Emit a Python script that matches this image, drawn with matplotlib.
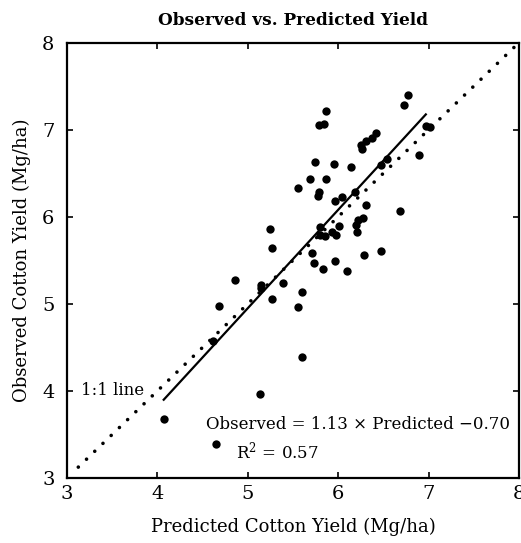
import matplotlib
matplotlib.use("Agg")
import matplotlib.pyplot as plt
import numpy as np

plt.rcParams['font.family'] = ['DejaVu Serif']
plt.rcParams['mathtext.fontset'] = 'dejavuserif'

# predicted vs observed cotton yield (Mg/ha)
predicted = [5.87, 5.79, 5.84, 6.77, 6.73, 6.42, 6.37, 6.31, 6.25, 6.26,
             6.97, 7.02, 6.90, 6.54, 6.47, 5.74, 5.95, 6.14, 5.69, 5.87,
             5.56, 5.79, 5.78, 6.04, 5.97, 6.19, 6.31, 6.68, 6.28, 6.22,
             6.20, 6.21, 5.25, 5.27, 5.80, 5.80, 5.85, 5.93, 5.98, 6.01,
             5.71, 5.73, 5.97, 5.83, 6.10, 6.29, 6.47, 4.86, 5.15, 5.15,
             5.39, 5.27, 5.60, 5.56, 4.68, 4.61, 5.60, 5.13, 4.07, 4.65]
observed = [7.21, 7.06, 7.07, 7.40, 7.28, 6.96, 6.91, 6.87, 6.83, 6.78,
            7.04, 7.03, 6.71, 6.66, 6.59, 6.63, 6.61, 6.57, 6.43, 6.44,
            6.33, 6.29, 6.24, 6.23, 6.18, 6.28, 6.13, 6.07, 5.99, 5.96,
            5.91, 5.83, 5.86, 5.64, 5.88, 5.79, 5.78, 5.83, 5.79, 5.89,
            5.59, 5.47, 5.49, 5.40, 5.38, 5.56, 5.61, 5.27, 5.22, 5.18,
            5.24, 5.06, 5.14, 4.96, 4.98, 4.57, 4.39, 3.96, 3.68, 3.39]

slope, intercept = 1.13, -0.70
fit_x = [4.07, 6.97]
one_x = [3.125, 8.0]

fig = plt.figure(figsize=(5.21, 5.43), dpi=100)
ax = fig.add_axes([0.1286, 0.1197, 0.8674, 0.8017])

ax.scatter(predicted, observed, s=36, color='black', zorder=3, linewidths=0)
fx = np.array(fit_x)
ax.plot(fx, slope * fx + intercept, color='black', lw=1.6)
ax.plot(one_x, one_x, color='black', lw=2.6, linestyle=(0, (0.01, 3.15)),
        dash_capstyle='round')

ax.text(3.15, 4.0, '1:1 line', fontsize=12, va='center', ha='left')
ax.text(7.9, 3.61, 'Observed = 1.13 × Predicted \u22120.70', fontsize=12,
        va='center', ha='right')
ax.text(4.87, 3.31, 'R$^2$ = 0.57', fontsize=12, va='center', ha='left')

ax.set_xlim(3, 8)
ax.set_ylim(3, 8)
ax.set_xticks([3, 4, 5, 6, 7, 8])
ax.set_yticks([3, 4, 5, 6, 7, 8])
ax.tick_params(direction='in', length=4, width=1.2, labelsize=14,
               top=True, right=True)
ax.tick_params(axis='y', pad=9)
ax.tick_params(axis='x', pad=5)
for s in ax.spines.values():
    s.set_linewidth(1.6)

ax.set_xlabel('Predicted Cotton Yield (Mg/ha)', fontsize=13, labelpad=11)
ax.set_ylabel('Observed Cotton Yield (Mg/ha)', fontsize=13, labelpad=8)
ax.set_title('Observed vs. Predicted Yield', fontsize=12.2, fontweight='bold',
             pad=13)

fig.savefig('out.png', dpi=100)
